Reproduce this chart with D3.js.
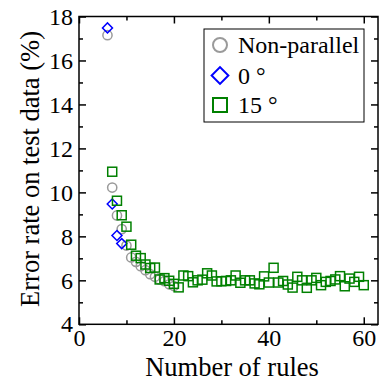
<!DOCTYPE html>
<html>
<head>
<meta charset="utf-8">
<script src="https://cdn.jsdelivr.net/npm/d3@7"></script>
<style>
  body { margin: 0; background: #fff; }
  svg { display: block; font-family: "Liberation Serif", "Times New Roman", serif; }
  .axis path.domain { display: none; }
  .axis line { stroke: #000; stroke-width: 1.5; }
  .axis text { font-size: 24px; fill: #000; font-family: "Liberation Serif", serif; }
</style>
</head>
<body>
<script>
// Data
var nonParallelX = [6, 7, 8, 9, 10, 11, 12, 13, 14, 15, 16, 17, 18, 19, 20];
var nonParallelY = [17.15, 10.22, 8.95, 8.33, 7.58, 7.04, 6.84, 6.64, 6.46, 6.28, 6.16, 6.04, 5.96, 5.82, 5.74];

var deg0X = [6, 7, 8, 9];
var deg0Y = [17.48, 9.47, 8.04, 7.67];

var deg15X = [7, 8, 9, 10, 11, 12, 13, 14, 15, 16, 17, 18, 19, 20,
  21, 22, 23, 24, 25, 26, 27, 28, 29, 30, 31, 32, 33, 34, 35, 36, 37, 38, 39, 40,
  41, 42, 43, 44, 45, 46, 47, 48, 49, 50, 51, 52, 53, 54, 55, 56, 57, 58, 59, 60];
var deg15Y = [10.94, 9.62, 8.96, 8.44, 7.62, 7.12, 7.01, 6.72, 6.56, 6.58, 6.04, 6.1, 5.98, 5.84,
  5.68, 6.22, 6.19, 5.91, 6.0, 6.03, 6.32, 6.22, 5.95, 5.96, 5.97, 6.0, 6.22, 5.89, 6.0, 6.0, 5.86, 5.82, 6.18, 5.9,
  6.57, 5.9, 5.97, 5.81, 5.67, 6.16, 6.0, 5.66, 6.0, 6.11, 5.78, 5.93, 5.97, 6.04, 6.19, 5.73, 6.08, 5.93, 6.16, 5.78];

var xTicks = [0, 20, 40, 60];
var xMinor = [10, 30, 50];
var yTicks = [4, 6, 8, 10, 12, 14, 16, 18];
var yMinor = [5, 7, 9, 11, 13, 15, 17];

var legendLabels = ["Non-parallel", "0 °", "15 °"];

// SVG area
var svgWidth = 381;
var svgHeight = 382;

// plot box edges
var plotLeft = 79, plotRight = 378, plotTop = 16.5, plotBottom = 324.3;

var svg = d3.select("body")
  .append("svg")
  .attr("width", svgWidth)
  .attr("height", svgHeight);

var x = d3.scaleLinear().domain([0, 63]).range([plotLeft, plotRight]);
var y = d3.scaleLinear().domain([4, 18]).range([plotBottom, plotTop]);

// axes (ticks point inward)
svg.append("g").classed("axis", true)
  .attr("transform", `translate(0, ${plotBottom})`)
  .call(d3.axisBottom(x).tickValues(xTicks).tickSize(-7).tickSizeOuter(0).tickPadding(5));
svg.append("g").classed("axis", true)
  .attr("transform", `translate(0, ${plotBottom})`)
  .call(d3.axisBottom(x).tickValues(xMinor).tickSize(-4).tickSizeOuter(0).tickFormat(""));
svg.append("g").classed("axis", true)
  .attr("transform", `translate(0, ${plotTop})`)
  .call(d3.axisTop(x).tickValues(xTicks).tickSize(-7).tickSizeOuter(0).tickFormat(""));
svg.append("g").classed("axis", true)
  .attr("transform", `translate(0, ${plotTop})`)
  .call(d3.axisTop(x).tickValues(xMinor).tickSize(-4).tickSizeOuter(0).tickFormat(""));

svg.append("g").classed("axis", true)
  .attr("transform", `translate(${plotLeft}, 0)`)
  .call(d3.axisLeft(y).tickValues(yTicks).tickSize(-7).tickSizeOuter(0).tickPadding(6));
svg.append("g").classed("axis", true)
  .attr("transform", `translate(${plotLeft}, 0)`)
  .call(d3.axisLeft(y).tickValues(yMinor).tickSize(-4).tickSizeOuter(0).tickFormat(""));
svg.append("g").classed("axis", true)
  .attr("transform", `translate(${plotRight}, 0)`)
  .call(d3.axisRight(y).tickValues(yTicks).tickSize(-7).tickSizeOuter(0).tickFormat(""));
svg.append("g").classed("axis", true)
  .attr("transform", `translate(${plotRight}, 0)`)
  .call(d3.axisRight(y).tickValues(yMinor).tickSize(-4).tickSizeOuter(0).tickFormat(""));

// frame
svg.append("rect")
  .attr("x", plotLeft).attr("y", plotTop)
  .attr("width", plotRight - plotLeft).attr("height", plotBottom - plotTop)
  .attr("fill", "none").attr("stroke", "#000").attr("stroke-width", 1.5);

// axis titles
svg.append("text")
  .attr("x", 232).attr("y", 376)
  .attr("text-anchor", "middle")
  .style("font-size", "26.5px")
  .text("Number of rules");

svg.append("text")
  .attr("transform", "translate(38.5, 169) rotate(-90)")
  .attr("text-anchor", "middle")
  .style("font-size", "26.5px")
  .text("Error rate on test data (%)");

// markers
var gray = "#9a9a9a", blue = "#0000ff", green = "#008000";

svg.append("g").selectAll("circle")
  .data(nonParallelX)
  .join("circle")
  .attr("cx", (d, i) => x(d))
  .attr("cy", (d, i) => y(nonParallelY[i]))
  .attr("r", 4.6)
  .attr("fill", "none").attr("stroke", gray).attr("stroke-width", 1.5);

var diamond = d3.symbol().type(d3.symbolSquare).size(50);
svg.append("g").selectAll("path")
  .data(deg0X)
  .join("path")
  .attr("d", diamond)
  .attr("transform", (d, i) => `translate(${x(d)}, ${y(deg0Y[i])}) rotate(45)`)
  .attr("fill", "none").attr("stroke", blue).attr("stroke-width", 1.5);

svg.append("g").selectAll("rect")
  .data(deg15X)
  .join("rect")
  .attr("x", (d, i) => x(d) - 4.5)
  .attr("y", (d, i) => y(deg15Y[i]) - 4.5)
  .attr("width", 9).attr("height", 9)
  .attr("fill", "none").attr("stroke", green).attr("stroke-width", 1.5);

// legend
var legend = svg.append("g");
legend.append("rect")
  .attr("x", 204).attr("y", 29).attr("width", 160).attr("height", 93)
  .attr("fill", "#fff").attr("stroke", "#000").attr("stroke-width", 1);

var rowY = [45, 75.5, 105];
legend.append("circle")
  .attr("cx", 220).attr("cy", rowY[0]).attr("r", 7)
  .attr("fill", "none").attr("stroke", gray).attr("stroke-width", 2);
legend.append("path")
  .attr("d", d3.symbol().type(d3.symbolSquare).size(140))
  .attr("transform", `translate(220, ${rowY[1]}) rotate(45)`)
  .attr("fill", "none").attr("stroke", blue).attr("stroke-width", 2);
legend.append("rect")
  .attr("x", 213).attr("y", rowY[2] - 7).attr("width", 14).attr("height", 14)
  .attr("fill", "none").attr("stroke", green).attr("stroke-width", 2);

legend.selectAll("text")
  .data(legendLabels)
  .join("text")
  .attr("x", 238)
  .attr("y", (d, i) => rowY[i] + 8)
  .style("font-size", "24px")
  .text(d => d);
</script>
</body>
</html>
